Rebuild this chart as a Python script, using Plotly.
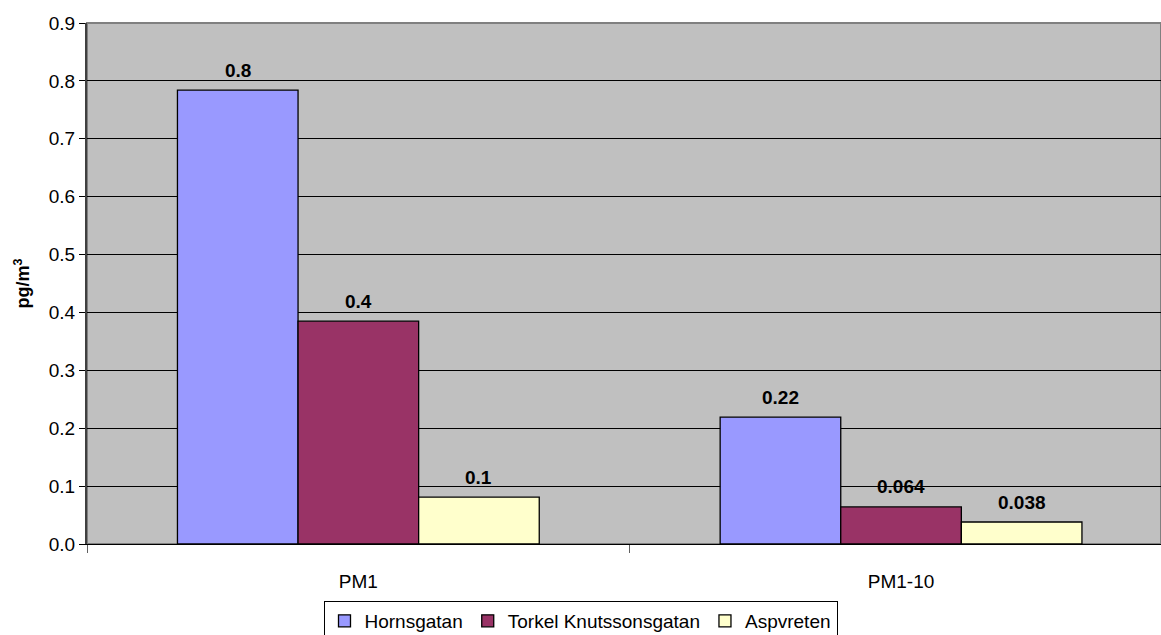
import plotly.graph_objects as go

# Data
categories = ["PM1", "PM1-10"]
series_names = ["Hornsgatan", "Torkel Knutssonsgatan", "Aspvreten"]
hornsgatan = [0.784, 0.219]
torkel = [0.385, 0.064]
aspvreten = [0.081, 0.038]
colors = ["#9999FF", "#993366", "#FFFFCC"]

series_values = [hornsgatan, torkel, aspvreten]

FONT = "Arial, 'Liberation Sans', sans-serif"
BARGAP = 1 / 3


def label_for(cat_index, v):
    # PM1 values shown with one decimal, PM1-10 with two significant figures
    if cat_index == 0:
        return f"{v:.1f}"
    return f"{float(f'{v:.2g}'):g}"


fig = go.Figure()
for name, vals, col in zip(series_names, series_values, colors):
    fig.add_trace(go.Bar(
        x=categories, y=vals, name=name,
        marker=dict(color=col, line=dict(color="black", width=1.3)),
    ))

# Value labels above each bar
n = len(series_names)
slot = (1 - BARGAP) / n
for si, vals in enumerate(series_values):
    for ci, v in enumerate(vals):
        fig.add_annotation(
            x=ci + (si - (n - 1) / 2) * slot, y=v, xref="x", yref="y",
            text=f"<b>{label_for(ci, v)}</b>", showarrow=False,
            yanchor="middle", yshift=20,
            font=dict(family=FONT, size=19, color="black"),
        )

# Plot-area frame
fig.add_shape(type="rect", xref="paper", yref="paper", x0=0, y0=0, x1=1, y1=1,
              line=dict(color="#808080", width=2), layer="below")

fig.update_layout(
    width=1161, height=635,
    margin=dict(l=87, r=0, t=23, b=91),
    paper_bgcolor="white", plot_bgcolor="#C0C0C0",
    barmode="group", bargap=BARGAP, bargroupgap=0,
    font=dict(family=FONT, size=19, color="black"),
    showlegend=True,
    legend=dict(
        orientation="h", xref="container", yref="container",
        x=0.5, xanchor="center", y=1 - 601 / 635, yanchor="top",
        bordercolor="black", borderwidth=1, bgcolor="white",
        font=dict(family=FONT, size=19, color="black"),
        itemwidth=30, tracegroupgap=0,
    ),
    xaxis=dict(
        range=[-0.5, 1.479], showgrid=False,
        showline=True, linecolor="black", linewidth=1,
        ticks="outside", tickson="boundaries", ticklen=8, tickcolor="#606060",
        tickfont=dict(family=FONT, size=19), ticklabelstandoff=20,
    ),
    yaxis=dict(
        range=[0, 0.9], dtick=0.1, tickformat=".1f",
        showgrid=True, gridcolor="black", gridwidth=1,
        showline=True, linecolor="#404040", linewidth=2,
        ticks="outside", ticklen=6, tickcolor="black",
        tickfont=dict(family=FONT, size=19), zeroline=False,
        title=dict(text="<b>pg/m<sup>3</sup></b>", font=dict(family=FONT, size=18), standoff=14),
    ),
)

fig.write_html("out.html")
